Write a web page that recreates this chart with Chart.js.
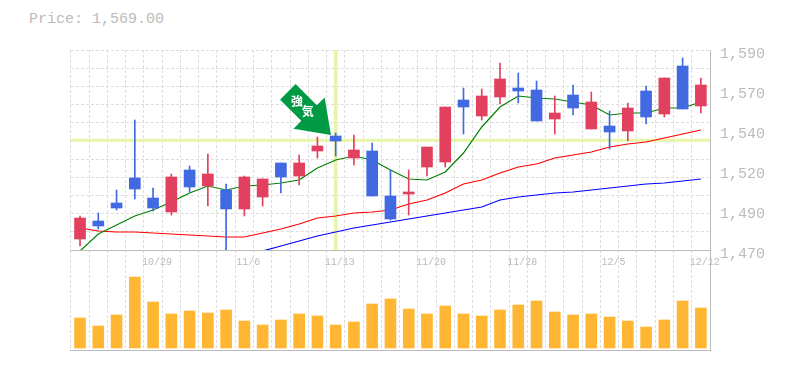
<!DOCTYPE html>
<html><head><meta charset="utf-8">
<style>html,body{margin:0;padding:0;background:#fff}
#t{position:absolute;left:29px;top:11px;font:15px "Liberation Mono",monospace;color:#bbb;white-space:pre}
#w{position:absolute;left:0;top:0;width:785px;height:370px}</style>
<script src="https://cdn.jsdelivr.net/npm/chart.js@4"></script></head>
<body><div id="t">Price: 1,569.00</div><div id="w"><canvas id="c" width="785" height="370"></canvas></div>
<script>
const categories=["10/23","10/24","10/25","10/26","10/29","10/30","10/31","11/1","11/2","11/6","11/7","11/8","11/9","11/12","11/13","11/14","11/15","11/16","11/19","11/20","11/21","11/22","11/26","11/27","11/28","11/29","11/30","12/3","12/4","12/5","12/6","12/7","12/10","12/11","12/12"];
const shownDates=["10/29","11/6","11/13","11/20","11/28","12/5","12/12"];
const opens=[1476.6,1487.4,1498.2,1513.2,1501.2,1492.8,1518,1508.4,1506,1494.6,1501.8,1522.2,1514.4,1529.4,1538.4,1525.2,1529.4,1502.4,1503.6,1519.8,1522.8,1560,1550.4,1561.8,1567.2,1566,1548.6,1563,1542.6,1544.4,1541.4,1565.4,1551.6,1580.4,1556.4];
const highs=[1490.4,1492.2,1506,1548,1507.2,1515.6,1520.4,1527.6,1509.6,1514.4,1512.6,1522.2,1527,1537.8,1540.2,1539,1534.2,1518,1518,1531.8,1555.8,1567.2,1566.6,1582.2,1576.2,1571.4,1562.4,1569,1564.8,1553.4,1558.2,1568.4,1573.2,1585.2,1573.2];
const lows=[1472.4,1482.6,1494,1500.6,1493.4,1491,1504.8,1496.4,1470,1490.4,1496.4,1504.2,1509,1525.2,1526.4,1521,1502.4,1488,1491,1514.4,1519.8,1539.6,1548,1557.6,1558.2,1547.4,1539.6,1551,1542.6,1530.6,1535.4,1545.6,1549.8,1554.6,1552.2];
const closes=[1489.2,1484.4,1495.2,1506.6,1495.2,1513.8,1507.8,1515.6,1494.6,1513.8,1512.6,1513.8,1522.2,1532.4,1535.4,1530,1502.4,1488.6,1504.8,1531.8,1555.8,1555.8,1562.4,1572.6,1565.4,1547.4,1552.2,1555.2,1558.8,1540.8,1555.2,1549.8,1573.2,1554.6,1569];
const maShort=[1469.4,1479.6,1485,1490.4,1494,1498.8,1504.2,1508.4,1506,1508.4,1509,1510.2,1512,1519.2,1524,1526.4,1524,1518,1512.6,1512,1516.8,1528.2,1543.8,1555.8,1562.4,1561.2,1560.6,1558.8,1557,1551,1552.2,1552.2,1555.2,1555.2,1558.8];
const maMid=[1483.2,1481.4,1480.8,1480.8,1480.2,1479.6,1479,1478.4,1477.8,1477.8,1480.2,1482.6,1485.6,1489.2,1490.4,1492.2,1492.8,1494,1497.6,1500,1504.2,1509.6,1512,1516.2,1519.8,1521.6,1525.2,1527,1528.8,1531.8,1533.6,1534.8,1537.2,1539.6,1542];
const maLong=[null,null,null,null,null,null,null,null,null,null,1469.4,1472.4,1475.4,1478.4,1480.8,1483.2,1485,1486.8,1488.6,1490.4,1492.2,1494,1495.8,1500,1501.8,1503,1504.2,1504.8,1506,1507.2,1508.4,1509.6,1510.2,1511.4,1512.6];
const volumes=[30,22,33,71,46,34,37,35,38,27,23,28,34,32,23,26,44,49,39,34,42,34,32,38,43,47,36,33,34,31,27,21,28,47,40];
const crossIndex=14, crossPrice=1535.8;
const priceMin=1470, priceMax=1590, labelStep=24, gridDivisions=11;
const signalText=["強","気"];

const RED="#e2405f",BLUE="#4169e1",CROSS="#e6f5a8",AXIS="#bbb",GRID="#ddd";
const isUp=closes.map((c,i)=>c>=opens[i]);
const wicks=categories.map((_,i)=>[lows[i],highs[i]]);
const bodies=categories.map((_,i)=>[opens[i],closes[i]]);
const candleColors=isUp.map(u=>u?RED:BLUE);
const vCross=categories.map((_,i)=>i===crossIndex?[priceMin,priceMax]:null);

const arrowPlugin={id:"arrow",afterDatasetsDraw(ch){
  const {ctx,scales:{x,y}}=ch;
  const tx=x.getPixelForValue(crossIndex)-4.7, ty=y.getPixelForValue(highs[crossIndex])+2;
  ctx.save();ctx.translate(tx,ty);ctx.rotate(Math.PI/4);
  ctx.fillStyle="#009a44";ctx.beginPath();
  ctx.moveTo(0,0);ctx.lineTo(-31,-22);ctx.lineTo(-31,-11);ctx.lineTo(-61,-11);ctx.lineTo(-61,11);ctx.lineTo(-31,11);ctx.lineTo(-31,22);ctx.closePath();ctx.fill();
  ctx.fillStyle="#fff";ctx.font='bold 12px "Noto Sans CJK JP"';ctx.textAlign="center";ctx.textBaseline="middle";
  ctx.translate(-48,0);ctx.rotate(-Math.PI/4);ctx.fillText(signalText[0],0,0);ctx.rotate(Math.PI/4);
  ctx.translate(15,0);ctx.rotate(-Math.PI/4);ctx.fillText(signalText[1],0,0);
  ctx.restore();
}};
const fitW=s=>{s.width=75};
new Chart(document.getElementById("c"),{
 data:{labels:categories,datasets:[
  {type:"line",label:"crossH",xAxisID:"xl",yAxisID:"y",data:[{x:-0.5,y:crossPrice},{x:34.5,y:crossPrice}],borderColor:CROSS,borderWidth:3,pointRadius:0,order:9},
  {type:"bar",label:"crossV",xAxisID:"x",yAxisID:"y",data:vCross,backgroundColor:CROSS,barThickness:3,grouped:false,order:8},
  {type:"line",label:"MA long",xAxisID:"x",yAxisID:"y",data:maLong,borderColor:"#0000ff",borderWidth:1.2,pointRadius:0,tension:0,order:5},
  {type:"line",label:"MA mid",xAxisID:"x",yAxisID:"y",data:maMid,borderColor:"#ff0000",borderWidth:1.2,pointRadius:0,tension:0,order:6},
  {type:"line",label:"MA short",xAxisID:"x",yAxisID:"y",data:maShort,borderColor:"#008000",borderWidth:1.2,pointRadius:0,tension:0,order:4},
  {type:"bar",label:"wick",xAxisID:"x",yAxisID:"y",data:wicks,backgroundColor:candleColors,barThickness:1,grouped:false,order:2},
  {type:"bar",label:"body",xAxisID:"x",yAxisID:"y",data:bodies,backgroundColor:candleColors,barThickness:11,grouped:false,order:1},
  {type:"bar",label:"volume",xAxisID:"x",yAxisID:"v",data:volumes,backgroundColor:"#ffb733",barThickness:11,grouped:false,order:3}
 ]},
 options:{responsive:false,animation:false,events:[],
  layout:{padding:{left:70.9,top:50,right:0,bottom:20}},
  plugins:{legend:{display:false},tooltip:{enabled:false},title:{display:false}},
  scales:{
   x:{type:"category",offset:true,position:{y:priceMin},
      grid:{offset:true,color:GRID,lineWidth:1,drawTicks:false},
      border:{display:true,color:AXIS,dash:[3,2]},
      ticks:{autoSkip:false,maxRotation:0,minRotation:0,padding:6,labelOffset:4,color:AXIS,font:{family:'"Liberation Mono"',size:10},
        callback(v,i){const l=categories[i];return shownDates.includes(l)?l:""}}},
   xb:{type:"category",position:"bottom",grid:{display:false},border:{display:true,color:AXIS},ticks:{display:false},afterFit(s){s.height=0}},
   xl:{type:"linear",display:false,min:-0.5,max:34.5},
   y:{type:"linear",position:"right",stack:"p",stackWeight:2,min:priceMin,max:priceMax,
      afterBuildTicks(s){const t=[];for(let i=0;i<=gridDivisions;i++)t.push({value:priceMin+i*(priceMax-priceMin)/gridDivisions,g:1});
        for(let v=priceMin;v<=priceMax;v+=labelStep)t.push({value:v,l:1});
        s.ticks=t;},
      afterFit:fitW,
      grid:{color(c){return c.tick&&c.tick.g?GRID:"rgba(0,0,0,0)"},lineWidth:1,drawTicks:false},
      border:{display:true,color:AXIS,dash:[3,2]},
      ticks:{padding:10,labelOffset:4,color:AXIS,font:{family:'"Liberation Mono"',size:15},autoSkip:false,
        callback(v,i,ts){if(!ts[i].l)return "";return (Math.round(v/10)*10).toLocaleString("en-US")}}},
   v:{type:"linear",position:"right",stack:"p",stackWeight:1,min:-2,max:98,afterFit:fitW,
      grid:{display:false},border:{display:true,color:AXIS},ticks:{display:false}}
  }},
 plugins:[arrowPlugin]
});
</script></body></html>
